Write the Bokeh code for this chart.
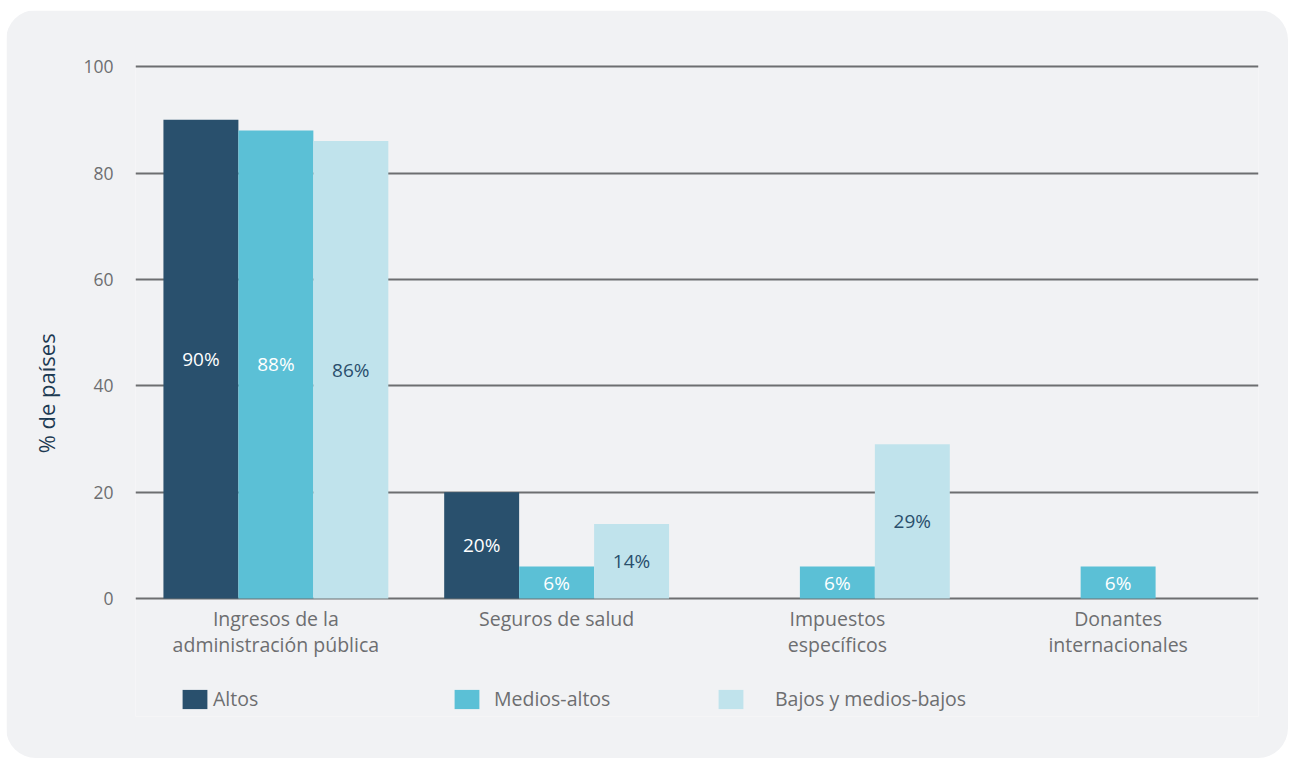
from bokeh.plotting import figure
from bokeh.models import ColumnDataSource, Range1d, FactorRange, Legend, LegendItem, FixedTicker
from bokeh.transform import dodge
from bokeh.core.properties import value
from bokeh.embed import file_html
from bokeh.resources import INLINE

# ---- data ----
categories = ["Ingresos de la\nadministración pública", "Seguros de salud",
              "Impuestos\nespecíficos", "Donantes\ninternacionales"]
altos = [90, 20, 0, 0]
medios_altos = [88, 6, 6, 6]
bajos = [86, 14, 29, 0]
series_names = ["Altos", "Medios-altos", "Bajos y medios-bajos"]
y_ticks = [0, 20, 40, 60, 80, 100]

# ---- styles ----
FONT = "Open Sans"
GRAY = "#6d6e70"
colors = ["#29506d", "#5bc0d6", "#c0e3ec"]
label_colors = ["#ffffff", "#ffffff", "#2a4f6c"]
offsets = [-0.267, 0.0, 0.267]
bar_w = 0.267
PANEL = "#f1f2f4"
TICK_FS = "17.5px"
TEXT_FS = "19.5px"
VAL_FS = "19px"
Y_BOTTOM = -22.18   # extra room under the baseline for category labels + legend
CAT_LABEL_Y = -1.3

p = figure(x_range=FactorRange(*categories, range_padding=0),
           y_range=Range1d(Y_BOTTOM, 100.4),
           width=1282, height=748,
           output_backend="svg", toolbar_location=None,
           min_border_left=129, min_border_right=30,
           min_border_top=54, min_border_bottom=42,
           background_fill_color=PANEL, border_fill_color=PANEL,
           outline_line_color=None,
           margin=(10, 2, 3, 6),
           styles={"border-radius": "30px", "overflow": "hidden"})

p.xgrid.grid_line_color = None
p.ygrid.ticker = FixedTicker(ticks=y_ticks)
p.ygrid.grid_line_color = GRAY
p.ygrid.grid_line_width = 2

p.yaxis.ticker = FixedTicker(ticks=y_ticks)
p.yaxis.axis_line_color = None
p.yaxis.major_tick_line_color = None
p.yaxis.major_tick_out = 0
p.yaxis.major_tick_in = 0
p.yaxis.minor_tick_line_color = None
p.yaxis.major_label_standoff = 22
p.yaxis.major_label_text_font = FONT
p.yaxis.major_label_text_font_size = TICK_FS
p.yaxis.major_label_text_color = GRAY
p.yaxis.axis_label = "%  de países"
p.yaxis.axis_label_text_font = FONT
p.yaxis.axis_label_text_font_size = "22px"
p.yaxis.axis_label_text_font_style = "normal"
p.yaxis.axis_label_text_color = "#1d3a52"
p.yaxis.axis_label_standoff = 19

p.xaxis.visible = False

series = [altos, medios_altos, bajos]
renderers = []
for vals, name, col, lcol, off in zip(series, series_names, colors, label_colors, offsets):
    src = ColumnDataSource(dict(
        cat=categories,
        val=vals,
        label=[f"{v}%" if v > 0 else "" for v in vals],
        label_y=[v / 2 for v in vals],
    ))
    r = p.vbar(x=dodge("cat", off, range=p.x_range), top="val", bottom=0,
               width=bar_w, source=src, fill_color=col, line_color=None)
    renderers.append(r)
    p.text(x=dodge("cat", off, range=p.x_range), y="label_y", text="label",
           source=src, text_align="center", text_baseline="middle",
           text_color=lcol, text_font=value(FONT), text_font_size=VAL_FS)

# category labels (drawn under the baseline)
cat_src = ColumnDataSource(dict(cat=categories, y=[CAT_LABEL_Y] * len(categories)))
p.text(x="cat", y="y", text="cat", source=cat_src, text_align="center",
       text_baseline="top", text_color=GRAY, text_font=value(FONT),
       text_font_size=TEXT_FS, text_line_height=0.94)

legend_pos = [(44, 3), (316, 12), (580, 29)]
for r, name, (lx, st) in zip(renderers, series_names, legend_pos):
    leg = Legend(items=[LegendItem(label=name, renderers=[r])],
                 location=(lx, 4), orientation="horizontal",
                 glyph_width=31, glyph_height=24, label_standoff=st,
                 label_height=24,
                 padding=0, margin=0, spacing=0,
                 border_line_color=None, background_fill_alpha=0,
                 label_text_font=FONT, label_text_font_size=TEXT_FS,
                 label_text_color=GRAY)
    p.add_layout(leg)

open("out.html", "w").write(file_html(p, INLINE))
